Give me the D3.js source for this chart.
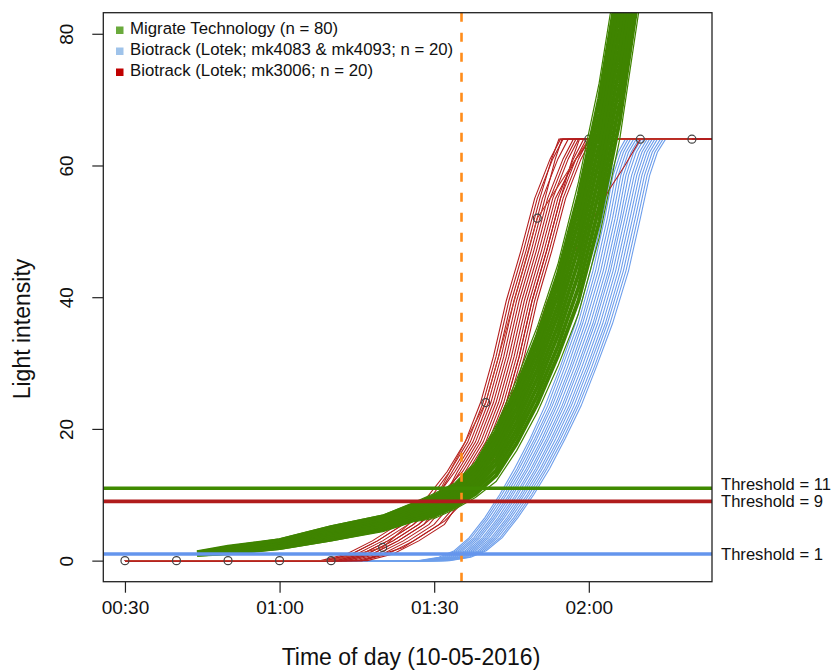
<!DOCTYPE html>
<html><head><meta charset="utf-8">
<script src="https://cdn.jsdelivr.net/npm/d3@7"></script>
<style>body{margin:0;background:#fff} text{font-family:"Liberation Sans",Arial,sans-serif;fill:#111}</style>
</head><body><svg id="c" width="832" height="670"></svg>
<script>
// ---------- DATA (minutes after midnight, light values) ----------
const xTickValues = [30, 60, 90, 120];
const xTickLabels = ["00:30", "01:00", "01:30", "02:00"];
const yTickValues = [0, 20, 40, 60, 80];

const legendLabels = ["Migrate Technology (n = 80)", "Biotrack (Lotek; mk4083 & mk4093; n = 20)", "Biotrack (Lotek; mk3006; n = 20)"];
const legendColors = ["#6aaa3c", "#9fc3ea", "#c00000"];

const thresholdValues = [11, 9, 1];
const thresholdLabels = ["Threshold = 11", "Threshold = 9", "Threshold = 1"];
const thresholdColors = ["#3f8a00", "#b01c1c", "#6495ed"];

const markerTime = 95.3; // orange dashed line

// Migrate Technology curves: values at common times
const greenTimes = [44, 50, 60, 70, 80, 86, 90, 94, 98, 102, 106, 110, 114, 118, 122, 126, 130];
const greenCurves = [
  [0.8, 1.0, 1.7, 3.0, 4.4, 5.9, 6.4, 7.8, 9.6, 12.0, 16.7, 22.5, 29.5, 37.5, 49.0, 64.0, 85],
  [0.9, 1.1, 1.9, 3.2, 4.7, 6.2, 6.8, 8.2, 10.1, 12.9, 17.8, 23.8, 31.1, 39.5, 51.4, 66.8, 88],
  [0.9, 1.2, 2.0, 3.5, 4.9, 6.5, 7.2, 8.6, 10.7, 13.7, 18.9, 25.1, 32.6, 41.5, 53.7, 69.6, 91],
  [1.0, 1.4, 2.2, 3.7, 5.2, 6.8, 7.5, 9.0, 11.2, 14.6, 19.9, 26.4, 34.2, 43.5, 56.1, 72.4, 94],
  [1.0, 1.5, 2.3, 3.9, 5.4, 7.1, 7.9, 9.4, 11.8, 15.4, 21.0, 27.7, 35.7, 45.5, 58.4, 75.2, 97],
  [1.1, 1.6, 2.5, 4.2, 5.7, 7.4, 8.3, 9.8, 12.3, 16.3, 22.1, 29.0, 37.3, 47.5, 60.8, 78.0, 100],
  [1.1, 1.7, 2.7, 4.4, 5.9, 7.6, 8.7, 10.2, 12.8, 17.1, 23.2, 30.3, 38.8, 49.5, 63.1, 80.8, 103],
  [1.2, 1.8, 2.8, 4.6, 6.2, 7.9, 9.1, 10.6, 13.4, 18.0, 24.3, 31.6, 40.4, 51.5, 65.5, 83.6, 106],
  [1.2, 2.0, 3.0, 4.8, 6.4, 8.2, 9.4, 11.0, 13.9, 18.8, 25.3, 32.9, 41.9, 53.5, 67.8, 86.4, 109],
  [1.3, 2.1, 3.1, 5.1, 6.7, 8.5, 9.8, 11.4, 14.5, 19.7, 26.4, 34.2, 43.5, 55.5, 70.2, 89.2, 112],
  [1.3, 2.2, 3.3, 5.3, 6.9, 8.8, 10.2, 11.8, 15.0, 20.5, 27.5, 35.5, 45.0, 57.5, 72.5, 92.0, 115]
];

// Biotrack mk4083 & mk4093: times at which each level is reached
const blueLevels = [0, 0, 0.5, 1.5, 3.5, 6.5, 10, 14, 18.5, 23.5, 29.5, 36, 44, 52, 58.5, 62, 64, 64];
const blueTimes = [
  [30, 87, 90.9, 93.9, 96.8, 99.8, 102.7, 105.6, 108.6, 111.5, 114.5, 117.4, 120.3, 122.6, 124.2, 125.7, 127.1, 145],
  [30, 87.4, 91.4, 94.3, 97.2, 100.2, 103.1, 106.1, 109.0, 112.0, 114.9, 117.9, 120.8, 123.1, 124.7, 126.2, 127.6, 145],
  [30, 87.8, 91.8, 94.7, 97.7, 100.6, 103.6, 106.5, 109.5, 112.5, 115.4, 118.4, 121.3, 123.6, 125.2, 126.7, 128.1, 145],
  [30, 88.2, 92.2, 95.1, 98.1, 101.1, 104.0, 107.0, 109.9, 112.9, 115.9, 118.8, 121.8, 124.1, 125.7, 127.2, 128.7, 145],
  [30, 88.6, 92.6, 95.5, 98.5, 101.5, 104.5, 107.4, 110.4, 113.4, 116.4, 119.3, 122.3, 124.6, 126.2, 127.7, 129.2, 145],
  [30, 89, 93, 96, 98.9, 101.9, 104.9, 107.9, 110.9, 113.8, 116.8, 119.8, 122.8, 125.1, 126.7, 128.2, 129.7, 145],
  [30, 89.4, 93.4, 96.4, 99.4, 102.4, 105.3, 108.3, 111.3, 114.3, 117.3, 120.3, 123.3, 125.6, 127.2, 128.7, 130.2, 145],
  [30, 89.8, 93.8, 96.8, 99.8, 102.8, 105.8, 108.8, 111.8, 114.8, 117.8, 120.8, 123.8, 126.1, 127.7, 129.2, 130.7, 145],
  [30, 90.2, 94.2, 97.2, 100.2, 103.2, 106.2, 109.2, 112.2, 115.2, 118.2, 121.2, 124.2, 126.5, 128.3, 129.8, 131.3, 145],
  [30, 90.6, 94.6, 97.6, 100.6, 103.6, 106.7, 109.7, 112.7, 115.7, 118.7, 121.7, 124.7, 127.0, 128.8, 130.3, 131.8, 145],
  [30, 91, 95, 98, 101.1, 104.1, 107.1, 110.1, 113.1, 116.2, 119.2, 122.2, 125.2, 127.5, 129.3, 130.8, 132.3, 145],
  [30, 91.4, 95.4, 98.5, 101.5, 104.5, 107.5, 110.6, 113.6, 116.6, 119.7, 122.7, 125.7, 128.0, 129.8, 131.3, 132.8, 145],
  [30, 91.8, 95.8, 98.9, 101.9, 104.9, 108.0, 111.0, 114.1, 117.1, 120.1, 123.2, 126.2, 128.5, 130.3, 131.8, 133.3, 145],
  [30, 92.2, 96.2, 99.3, 102.3, 105.4, 108.4, 111.5, 114.5, 117.6, 120.6, 123.6, 126.7, 129.0, 130.8, 132.3, 133.9, 145],
  [30, 92.6, 96.7, 99.7, 102.8, 105.8, 108.9, 111.9, 115.0, 118.0, 121.1, 124.1, 127.2, 129.5, 131.3, 132.8, 134.4, 145],
  [30, 93, 97.1, 100.1, 103.2, 106.2, 109.3, 112.4, 115.4, 118.5, 121.5, 124.6, 127.7, 130.0, 131.8, 133.3, 134.9, 145]
];

// Biotrack mk3006: times at which each level is reached
const redLevels = [0, 0, 1, 3, 5.5, 9, 13.5, 18, 24, 31, 39.5, 47, 55, 61, 64, 64];
const redTimes = [
  [30, 68, 73, 78, 83, 88, 92.5, 96, 99, 101.5, 104, 106.8, 109.5, 112.5, 114.5, 145],
  [30, 69, 74, 79, 84, 88.8, 93, 96.5, 99.5, 102, 104.5, 107.3, 110, 113, 115, 145],
  [30, 71, 76, 81, 86, 90, 93.5, 97, 100, 102.5, 105, 107.8, 110.5, 112.8, 114.2, 145],
  [30, 70, 75, 80, 85, 89.8, 94, 97.5, 100.5, 103, 105.5, 108.3, 111, 114, 116, 145],
  [30, 73, 78, 83, 88, 91.5, 94.5, 98, 101, 103.5, 106, 108.8, 111.5, 113.5, 114.8, 145],
  [30, 72, 77, 82, 87, 91.3, 95, 98.5, 101.5, 104, 106.5, 109.3, 112, 115, 117, 145],
  [30, 69, 74, 79, 84, 90, 95.5, 99, 102, 104.5, 107, 109.8, 112.5, 115.5, 117.5, 145],
  [30, 74, 79, 84, 89, 92.8, 96, 99.5, 102.5, 105, 107.5, 110.3, 113, 116, 118, 145],
  [30, 71, 76, 81, 86, 91.5, 96.5, 100, 103, 105.5, 108, 110.8, 113.5, 117.5, 120.5, 145],
  [30, 75, 80, 85, 90, 93.8, 97, 100.5, 103.5, 106, 108.5, 111.3, 114, 117, 119, 145],
  [30, 72, 77, 82, 87, 92.5, 97.5, 101, 104, 106.5, 109, 111.8, 114.5, 116.8, 118.2, 145],
  [30, 76, 81, 86, 91, 94.8, 98, 101.5, 104.5, 107, 109.5, 112.3, 115, 118, 120, 145],
  [30, 73, 78, 83, 88, 93.5, 98.5, 102, 105, 107.5, 110, 112.8, 115.5, 118.5, 120.5, 145],
  [30, 77, 82, 87, 92, 95, 97.5, 101, 104, 106.5, 109, 111.8, 114.5, 117.5, 119.5, 145]
];
const redLateTimes  = [30, 76, 84, 92, 97, 100.3, 104, 108, 112, 118, 124, 127, 130, 145];
const redLateValues = [0, 0, 2, 6, 10, 13.2, 20, 30, 39.5, 48, 56.4, 60, 64, 64];

// one mk3006 series plotted with point markers every 10 minutes
const markedTimes  = [30, 40, 50, 60, 70, 80, 90, 100, 110, 120, 130, 140];
const markedValues = [0, 0, 0, 0, 0, 2, 9, 24, 52, 64, 64, 64];

// ---------- DRAWING ----------
const plot = {left: 103.3, right: 712, top: 12.7, bottom: 581.7};
const svg = d3.select('#c');
const x = d3.scaleLinear().domain([25.8, 143.9]).range([plot.left, plot.right]);
const y = d3.scaleLinear().domain([-3.2, 83.2]).range([plot.bottom, plot.top]);

svg.append('defs').append('clipPath').attr('id', 'clip')
  .append('rect').attr('x', plot.left).attr('y', plot.top)
  .attr('width', plot.right - plot.left).attr('height', plot.bottom - plot.top);

const line = d3.line().x(d => x(d[0])).y(d => y(d[1]));
const g = svg.append('g').attr('clip-path', 'url(#clip)');

// blue
g.append('g').selectAll('path').data(blueTimes).join('path')
  .attr('d', ts => line(ts.map((t, j) => [t, blueLevels[j]])))
  .attr('fill', 'none').attr('stroke', '#6d9eeb').attr('stroke-width', 1.1);

// red
const redG = g.append('g');
redG.selectAll('path.r').data(redTimes).join('path').attr('class', 'r')
  .attr('d', ts => line(ts.map((t, j) => [t, redLevels[j]])))
  .attr('fill', 'none').attr('stroke', '#b41e1e').attr('stroke-width', 1.1);
redG.append('path').attr('d', line(redLateTimes.map((t, j) => [t, redLateValues[j]])))
  .attr('fill', 'none').attr('stroke', '#b41e1e').attr('stroke-width', 1.1);
redG.append('path').attr('d', line(markedTimes.map((t, j) => [t, markedValues[j]])))
  .attr('fill', 'none').attr('stroke', '#c0392b').attr('stroke-width', 1.1);
redG.selectAll('circle').data(markedTimes).join('circle')
  .attr('cx', t => x(t)).attr('cy', (t, j) => y(markedValues[j])).attr('r', 4)
  .attr('fill', 'none').attr('stroke', '#444').attr('stroke-width', 1.2);

// green
g.append('g').selectAll('path').data(greenCurves).join('path')
  .attr('d', vs => line(vs.map((v, j) => [greenTimes[j], v])))
  .attr('fill', 'none').attr('stroke', '#3f8400').attr('stroke-linejoin', 'round')
  .attr('stroke-width', (d, i) => (i === 0 || i === greenCurves.length - 1) ? 1.2 : 3.9);

// thresholds
svg.append('g').selectAll('line').data(thresholdValues).join('line')
  .attr('x1', plot.left).attr('x2', plot.right)
  .attr('y1', v => y(v)).attr('y2', v => y(v))
  .attr('stroke', (v, i) => thresholdColors[i]).attr('stroke-width', 3.6);
const labelShift = [-4.5, 0, 0];
svg.append('g').selectAll('text').data(thresholdValues).join('text')
  .attr('x', 721).attr('y', (v, i) => y(v) + 6 + labelShift[i])
  .attr('font-size', 16.6).text((v, i) => thresholdLabels[i]);

// orange marker
g.append('line').attr('x1', x(markerTime)).attr('x2', x(markerTime))
  .attr('y1', plot.top).attr('y2', plot.bottom)
  .attr('stroke', '#ff8c1a').attr('stroke-width', 2.6).attr('stroke-dasharray', '9,11');

// axes
const xAxis = d3.axisBottom(x).tickValues(xTickValues).tickFormat((d, i) => xTickLabels[i]).tickSize(11).tickPadding(8);
const xa = svg.append('g').attr('transform', `translate(0,${plot.bottom})`).call(xAxis);
xa.select('.domain').remove();
xa.selectAll('line').attr('stroke', '#222').attr('stroke-width', 1.2);
xa.selectAll('text').attr('font-size', 19).attr('fill', '#111').attr('font-family', '"Liberation Sans",Arial,sans-serif');

const yAxis = d3.axisLeft(y).tickValues(yTickValues).tickSize(11).tickPadding(0);
const ya = svg.append('g').attr('transform', `translate(${plot.left},0)`).call(yAxis);
ya.select('.domain').remove();
ya.selectAll('line').attr('stroke', '#222').attr('stroke-width', 1.2);
ya.selectAll('text').attr('font-size', 19).attr('fill', '#111').attr('font-family', '"Liberation Sans",Arial,sans-serif')
  .attr('x', null).attr('dy', null)
  .attr('text-anchor', 'middle')
  .attr('transform', 'translate(-30,0) rotate(-90)');

svg.append('rect').attr('x', plot.left).attr('y', plot.top)
  .attr('width', plot.right - plot.left).attr('height', plot.bottom - plot.top)
  .attr('fill', 'none').attr('stroke', '#222').attr('stroke-width', 1.3);

// axis titles
svg.append('text').attr('x', 411).attr('y', 665).attr('text-anchor', 'middle')
  .attr('font-size', 23).text('Time of day (10-05-2016)');
svg.append('text').attr('transform', 'translate(30,329) rotate(-90)').attr('text-anchor', 'middle')
  .attr('font-size', 23).text('Light intensity');

// legend
const lg = svg.append('g');
lg.selectAll('rect').data(legendLabels).join('rect')
  .attr('x', 116).attr('y', (d, i) => 26.5 + i * 21).attr('width', 7.5).attr('height', 7.5)
  .attr('fill', (d, i) => legendColors[i]);
lg.selectAll('text').data(legendLabels).join('text')
  .attr('x', 130).attr('y', (d, i) => 33.5 + i * 21).attr('font-size', 16.8).text(d => d);
</script></body></html>
